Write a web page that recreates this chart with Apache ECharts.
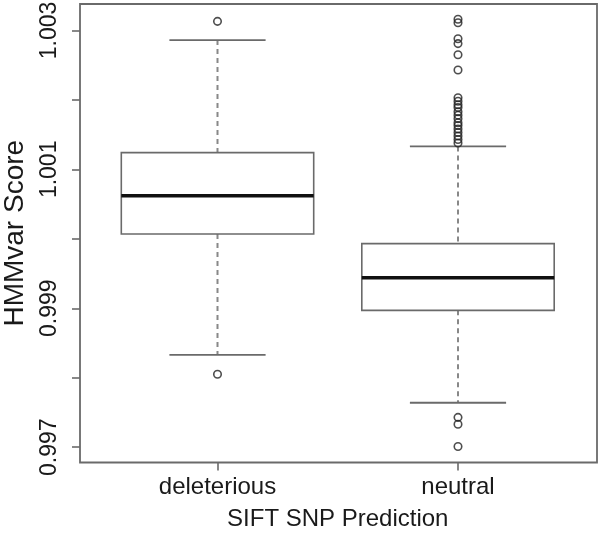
<!DOCTYPE html>
<html><head><meta charset="utf-8">
<script src="https://cdn.jsdelivr.net/npm/echarts@6/dist/echarts.min.js"></script>
<style>html,body{margin:0;padding:0;background:#fff}#c{width:600px;height:540px}</style>
</head><body><div id="c"></div>
<script>
const categories = ['deleterious', 'neutral'];
// [lower whisker, Q1, median, Q3, upper whisker]
const boxDeleterious = [0.99833, 1.00007, 1.00062, 1.00124, 1.00286];
const boxNeutral = [0.99764, 0.99897, 0.99944, 0.99993, 1.00133];
const outDeleterious = [1.00313, 0.99805];
const outNeutral = [1.00316, 1.00311, 1.00288, 1.00281, 1.00265, 1.00243,
  1.00203, 1.00198, 1.00193, 1.00189, 1.00183, 1.00178, 1.00173, 1.00167,
  1.00163, 1.00158, 1.00153, 1.00148, 1.00143, 1.00138,
  0.99743, 0.99733, 0.99701];
const yTicks = [0.997, 0.998, 0.999, 1.000, 1.001, 1.002, 1.003];
const yLabels = [0.997, 0.999, 1.001, 1.003];
const yMin = 0.99678, yMax = 1.00338;

const boxes = [[0].concat(boxDeleterious), [1].concat(boxNeutral)];
const outliers = outDeleterious.map(v => [0, v]).concat(outNeutral.map(v => [1, v]));

function renderBox(params, api) {
  const x = api.value(0);
  const lo = api.coord([x, api.value(1)]);
  const q1 = api.coord([x, api.value(2)]);
  const med = api.coord([x, api.value(3)]);
  const q3 = api.coord([x, api.value(4)]);
  const hi = api.coord([x, api.value(5)]);
  const band = api.size([1, 0])[0];
  const bw = band * 0.8, cw = bw / 2, cx = lo[0];
  const dash = {stroke: '#888', lineWidth: 2, lineDash: [5, 4]};
  const solid = {stroke: '#6a6a6a', lineWidth: 1.8};
  return {type: 'group', children: [
    {type: 'line', shape: {x1: cx, y1: hi[1], x2: cx, y2: q3[1]}, style: dash},
    {type: 'line', shape: {x1: cx, y1: q1[1], x2: cx, y2: lo[1]}, style: dash},
    {type: 'line', shape: {x1: cx - cw / 2, y1: hi[1], x2: cx + cw / 2, y2: hi[1]}, style: solid},
    {type: 'line', shape: {x1: cx - cw / 2, y1: lo[1], x2: cx + cw / 2, y2: lo[1]}, style: solid},
    {type: 'rect', shape: {x: cx - bw / 2, y: q3[1], width: bw, height: q1[1] - q3[1]}, style: {fill: '#fff', stroke: '#6a6a6a', lineWidth: 1.6}},
    {type: 'line', shape: {x1: cx - bw / 2, y1: med[1], x2: cx + bw / 2, y2: med[1]}, style: {stroke: '#111', lineWidth: 3.5}}
  ]};
}

const chart = echarts.init(document.getElementById('c'));
chart.setOption({
  animation: false,
  backgroundColor: '#fff',
  textStyle: {fontFamily: 'Liberation Sans, Arial, sans-serif', color: '#1a1a1a'},
  grid: [
    {left: 80, right: 3, top: 4, bottom: 77.5, outerBoundsMode: 'none', containLabel: false,
      show: true, borderColor: '#6a6a6a', borderWidth: 1.8, backgroundColor: 'transparent'},
    {left: 97.25, right: 21.75, top: 4, bottom: 77.5, outerBoundsMode: 'none', containLabel: false}
  ],
  xAxis: [
    {gridIndex: 0, type: 'value', min: 0, max: 1, show: false},
    {gridIndex: 1, type: 'category', data: categories, boundaryGap: true,
      axisLine: {show: false},
      axisTick: {show: true, alignWithLabel: true, length: 8, lineStyle: {color: '#6a6a6a', width: 1.6}},
      axisLabel: {fontSize: 24, color: '#1a1a1a', margin: 13},
      name: 'SIFT SNP Prediction', nameLocation: 'middle', nameGap: 45,
      nameTextStyle: {fontSize: 24, color: '#1a1a1a'}}
  ],
  yAxis: [
    {gridIndex: 0, type: 'value', min: yMin, max: yMax,
      axisLine: {show: false}, splitLine: {show: false},
      axisTick: {show: true, length: 8, customValues: yTicks, lineStyle: {color: '#6a6a6a', width: 1.6}},
      axisLabel: {customValues: yLabels, rotate: 90, fontSize: 23, color: '#1a1a1a', margin: 19,
        formatter: v => Number(v).toFixed(3)},
      name: 'HMMvar Score', nameLocation: 'middle', nameRotate: 90, nameGap: 51,
      nameTextStyle: {fontSize: 28, color: '#1a1a1a'}},
    {gridIndex: 1, type: 'value', min: yMin, max: yMax, show: false}
  ],
  series: [
    {type: 'custom', xAxisIndex: 1, yAxisIndex: 1, renderItem: renderBox,
      encode: {x: 0, y: [1, 2, 3, 4, 5]}, data: boxes, z: 2},
    {type: 'scatter', xAxisIndex: 1, yAxisIndex: 1, data: outliers, symbol: 'circle', symbolSize: 7.5,
      itemStyle: {color: 'rgba(0,0,0,0)', borderColor: '#222', borderWidth: 1.6}, z: 3}
  ]
});
</script></body></html>
